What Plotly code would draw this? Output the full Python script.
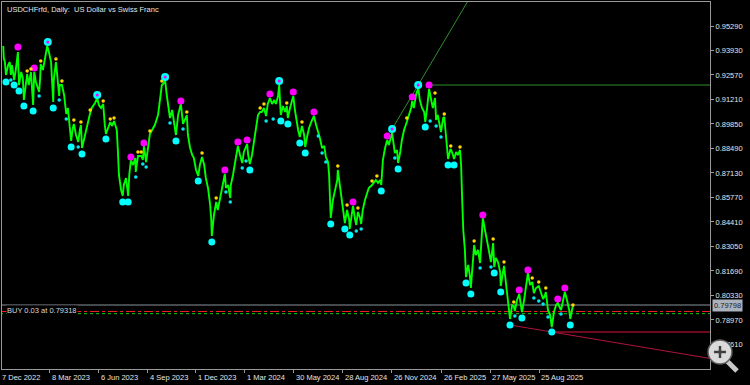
import pandas as pd
import plotly.graph_objects as go

# ---------------- data ----------------
base_date = pd.Timestamp("2022-12-06")   # day 0

bar_day = [6,7,9,11,15,18,20,22,26,29,33,35,39,42,44,48,50,53,57,61,
63,66,72,74,75,79,83,87,90,94,98,99,103,105,109,110,114,118,122,125,
129,131,134,136,140,144,147,149,151,155,158,162,166,169,175,179,182,186,190,193,
195,199,203,206,210,214,215,217,219,223,226,228,232,236,238,241,245,249,250,254,
260,263,265,269,273,276,280,285,291,295,298,302,304,307,311,313,317,320,324,328,
331,333,337,341,344,346,350,354,357,361,365,368,372,376,379,383,387,389,390,394,
398,401,405,409,412,414,416,420,424,425,429,433,436,438,442,446,449,455,457,460,
464,468,471,475,479,482,486,490,493,497,501,505,508,512,514,516,517,521,525,528,
530,534,538,540,543,547,549,552,556,560,562,565,569,573,576,578,582,586,589,593,
597,600,604,606,608,609,613,617,621,622,626,630,633,635,639,643,644,648,650,654,
656,659,663,665,668,672,676,679,685,689,692,696,700,702,705,709,713,716,718,722,
725,727,731,733,737,740,744,748,749,753,757,759,762,766,770,773,777,781,783,786,
790,794,797,801,803,806,810,812,816,818,821,825,829,830,834,836,840,843,847,849,
851,853,856,858,862,865,867,869,873,876,880,884,886,889,893,897,900,904,908,910,
913,917,921,922,926,928,932,935,939,943,946,948,952,956,959,961,965,969,972,976,
980,983,987,992,996,1000,1003,1005,1009,1013,1016,1020,1024,1027,1031,1033,1037,1040,1044,1048,
1050,1053,1055]

bar_price = [.94180,.93514,.93291,.92569,.93124,.93291,.92569,.93124,.92292,.92847,
.93847,.92014,.92736,.92403,.91182,.92292,.92625,.92014,.92736,.90904,
.92736,.92181,.91626,.92403,.93180,.92847,.93625,.94180,.93847,.93291,
.91071,.92292,.93291,.92569,.91404,.92014,.92014,.91459,.90404,.90738,
.89627,.88905,.89627,.89849,.89238,.88850,.89516,.89793,.88517,.89072,
.89516,.89960,.90459,.90738,.91015,.91293,.90904,.90738,.90960,.89793,
.89294,.89627,.89960,.89738,.90015,.89627,.89516,.88405,.87017,.86184,
.85851,.86462,.86851,.85851,.87017,.87850,.87572,.87961,.87184,.88072,
.88072,.87850,.88628,.87739,.88683,.89294,.89516,.89793,.90348,.91182,
.92014,.92125,.92292,.91459,.90626,.90182,.90626,.90071,.89238,.90348,
.90849,.90960,.89849,.90182,.90348,.89238,.88517,.88127,.87961,.87295,
.86962,.87572,.88016,.87572,.86851,.86296,.85351,.84519,.83630,.84796,
.85518,.85074,.85740,.86184,.86851,.87073,.86296,.86462,.85740,.86462,
.87017,.87850,.88405,.88628,.88127,.87683,.88294,.88739,.88127,.87628,
.88127,.88961,.89627,.90348,.90515,.90515,.90738,.90293,.90960,.91293,
.90960,.91182,.90960,.91404,.92014,.91182,.90348,.90849,.90515,.90849,
.90182,.90738,.91293,.91404,.90626,.89793,.89516,.89127,.89738,.89238,
.88572,.89072,.89627,.89960,.90182,.90293,.89793,.89405,.89072,.88517,
.88628,.88016,.87739,.87017,.85629,.84630,.85629,.86296,.86740,.87295,
.86462,.85629,.84963,.84352,.85074,.84519,.84019,.84796,.85296,.84519,
.84241,.84963,.84630,.84297,.85074,.85629,.86073,.86296,.86462,.86629,
.86740,.86573,.86740,.86462,.87850,.88517,.88961,.88683,.88961,.89349,
.88683,.88238,.88405,.87683,.88294,.88961,.89516,.89793,.89960,.90348,
.90738,.91126,.90738,.91459,.91848,.91182,.90738,.90515,.89960,.90626,
.91793,.91182,.90738,.91293,.90071,.90348,.89793,.89405,.90182,.90237,
.89238,.87906,.88405,.88461,.88127,.87906,.88294,.88127,.88405,.87572,
.85629,.83963,.82853,.81354,.82020,.81464,.80743,.81742,.83130,.82575,
.82853,.82131,.83130,.84630,.83963,.83408,.82853,.82187,.83241,.81909,
.82409,.82187,.81631,.80854,.81464,.81965,.80909,.80077,.79022,.79799,
.79743,.79466,.80077,.80410,.79799,.79410,.80077,.81076,.81575,.80909,
.81076,.80465,.80743,.80854,.80465,.80133,.80299,.80521,.79521,.79243,
.78577,.79410,.79799,.79910,.79632,.79521,.80077,.80521,.80077,.79521,
.79022,.79521,.79798]

low_big_day = [11,26,35,44,61,98,131,151,195,226,236,324,365,390,460,517,530,552,562,609,
               635,644,702,733,783,825,836,858,867,910,922,939,961,1016,1050]
low_big_price = [.92181,.92014,.91681,.90849,.90571,.90738,.88572,.88183,.89017,.85518,.85518,
                 .88905,.86684,.83297,.87295,.90015,.89849,.88794,.88238,.84297,.84019,.83686,
                 .86128,.87351,.89682,.87572,.87572,.81020,.80410,.81575,.80521,.78688,.79077,
                 .78300,.78688]

low_small_day = [20,72,109,122,144,250,263,269,313,337,416,424,446,453,490,503,586,593,600,
                 656,665,727,792,803,812,884,904,948,983,992,1000,1009,1033]
low_small_price = [.92292,.91404,.91182,.90127,.88572,.86907,.87628,.87462,.89904,.89572,.86073,
                   .85518,.87406,.87794,.90015,.90127,.89183,.88238,.87739,.83907,.84019,.87961,
                   .90015,.89738,.89128,.81853,.81909,.79188,.80188,.80021,.79854,.79132,.79299]

high_big_day = [33,63,241,265,333,414,438,455,497,540,578,650,713,759,790,889,956,972,1027,1040]
high_big_price = [.94124,.92958,.88016,.88794,.91126,.87295,.88850,.88961,.91515,.91626,.90515,
                  .85518,.89183,.91348,.92014,.84796,.80632,.81742,.80133,.80743]

both_day = [88,179,304,514,722,770]
both_price = [.94402,.91459,.92459,.92236,.89572,.92014]

high_small_day = [50,57,75,103,114,136,149,166,190,203,210,254,260,276,298,344,372,398,479,486,
                  528,556,622,639,659,685,694,749,801,818,830,847,873,908,928,946,980,992,1005,1055]
high_small_price = [.92792,.92903,.93347,.93458,.92236,.90071,.89960,.90626,.91126,.90127,.90182,
                    .88294,.88294,.89460,.92236,.90515,.88238,.85740,.90738,.90960,.91015,.89960,
                    .87517,.85351,.85185,.86684,.86962,.90182,.91570,.90404,.88628,.88572,.83352,
                    .83464,.82187,.79966,.81298,.81076,.80743,.79799]

ray_day = [722, 900]
ray_price = [0.89572, 0.98632]
res_day = [790, 1320]
res_price = [0.92014, 0.92014]
sup_day = [939, 1016, 1320]
sup_price = [0.78688, 0.78300, 0.76768]
sup_h_day = [1016, 1320]
sup_h_price = [0.78300, 0.78300]

bid_price = 0.79798
open_price = 0.79318
dashdot_price = 0.79438

y_ticks = [0.95290, 0.93930, 0.92570, 0.91210, 0.89850, 0.88490, 0.87130, 0.85770,
           0.84410, 0.83050, 0.81690, 0.80330, 0.78970, 0.77610]
x_tick_dates = ["2022-12-07", "2023-03-08", "2023-06-06", "2023-09-04", "2023-12-01",
                "2024-03-01", "2024-05-30", "2024-08-28", "2024-11-26", "2025-02-26",
                "2025-05-27", "2025-08-25"]
x_tick_labels = ["7 Dec 2022", "8 Mar 2023", "6 Jun 2023", "4 Sep 2023", "1 Dec 2023",
                 "1 Mar 2024", "30 May 2024", "28 Aug 2024", "26 Nov 2024", "26 Feb 2025",
                 "27 May 2025", "25 Aug 2025"]

title_text = "USDCHFrfd, Daily:\u00a0 US Dollar vs Swiss Franc"
position_text = "BUY 0.03 at 0.79318"

assert len(bar_day) == len(bar_price)

def to_dates(days):
    return [base_date + pd.Timedelta(days=d) for d in days]

FONT = "Liberation Sans, Arial, sans-serif"
TXT = "#e4e4e4"
FRAME = "#9a9a9a"

fig = go.Figure()

# horizontal chart-level lines (below price)
x_full = to_dates([0, 1320])
fig.add_trace(go.Scatter(x=x_full, y=[bid_price, bid_price], mode="lines",
                         line=dict(color="#8a929c", width=1), hoverinfo="skip"))
fig.add_trace(go.Scatter(x=x_full, y=[dashdot_price, dashdot_price], mode="lines",
                         line=dict(color="#e82020", width=1, dash="dashdot"), hoverinfo="skip"))
fig.add_trace(go.Scatter(x=x_full, y=[open_price, open_price], mode="lines",
                         line=dict(color="#10d010", width=1, dash="dot"), hoverinfo="skip"))

# trend lines
fig.add_trace(go.Scatter(x=to_dates(ray_day), y=ray_price, mode="lines",
                         line=dict(color="#2f8f2f", width=1), hoverinfo="skip"))
fig.add_trace(go.Scatter(x=to_dates(res_day), y=res_price, mode="lines",
                         line=dict(color="#2f8f2f", width=1), hoverinfo="skip"))
fig.add_trace(go.Scatter(x=to_dates(sup_day), y=sup_price, mode="lines",
                         line=dict(color="#b0143c", width=1), hoverinfo="skip"))
fig.add_trace(go.Scatter(x=to_dates(sup_h_day), y=sup_h_price, mode="lines",
                         line=dict(color="#dc143c", width=1), hoverinfo="skip"))

# price
fig.add_trace(go.Scatter(x=to_dates(bar_day), y=bar_price, mode="lines",
                         line=dict(color="#00ff00", width=1.9), hoverinfo="skip"))

# swing markers
fig.add_trace(go.Scatter(x=to_dates(low_big_day), y=low_big_price, mode="markers",
                         marker=dict(color="#00ffff", size=7, line=dict(width=0)), hoverinfo="skip"))
fig.add_trace(go.Scatter(x=to_dates(low_small_day), y=low_small_price, mode="markers",
                         marker=dict(color="#00e8f0", size=3.5, line=dict(width=0)), hoverinfo="skip"))
fig.add_trace(go.Scatter(x=to_dates(high_big_day), y=high_big_price, mode="markers",
                         marker=dict(color="#ff00ff", size=7, line=dict(width=0)), hoverinfo="skip"))
fig.add_trace(go.Scatter(x=to_dates(high_small_day), y=high_small_price, mode="markers",
                         marker=dict(color="#ffd700", size=3.5, line=dict(width=0)), hoverinfo="skip"))
fig.add_trace(go.Scatter(x=to_dates(both_day), y=both_price, mode="markers",
                         marker=dict(color="#00ffff", size=8, line=dict(width=0)), hoverinfo="skip"))
fig.add_trace(go.Scatter(x=to_dates(both_day), y=both_price, mode="markers",
                         marker=dict(color="#ff00ff", size=3, line=dict(width=0)), hoverinfo="skip"))

annotations = [
    dict(xref="paper", yref="paper", x=0, y=1, xanchor="left", yanchor="top",
         xshift=3, yshift=-1, text=title_text, showarrow=False,
         font=dict(family=FONT, size=7.5, color=TXT)),
    dict(xref="paper", yref="y", x=0, y=0.79521, xanchor="left", yanchor="middle",
         xshift=4, text=position_text, showarrow=False, bgcolor="#000000", borderpad=0,
         font=dict(family=FONT, size=7.5, color="#d8d8d8")),
    dict(xref="paper", yref="y", x=1, y=bid_price, xanchor="left", yanchor="middle",
         xshift=2, text="%.5f" % bid_price, showarrow=False, bgcolor="#aab2be",
         borderpad=1, font=dict(family=FONT, size=7.5, color="#1c2028")),
]
for i, (d, lab) in enumerate(zip(x_tick_dates, x_tick_labels)):
    if i == 0:
        annotations.append(dict(xref="paper", yref="paper", x=0, y=0, xanchor="left",
                                yanchor="top", xshift=-2, yshift=-2, text=lab, showarrow=False,
                                font=dict(family=FONT, size=7.5, color=TXT)))
    else:
        annotations.append(dict(xref="x", yref="paper", x=d, y=0, xanchor="left",
                                yanchor="top", xshift=0, yshift=-2, text=lab, showarrow=False,
                                font=dict(family=FONT, size=7.5, color=TXT)))

# magnifier overlay icon (bottom right)
shapes = [
    dict(type="line", xref="paper", yref="paper", xsizemode="pixel", ysizemode="pixel",
         xanchor=1, yanchor=0, x0=17, y0=8, x1=27, y1=-2,
         line=dict(color="#c8c8c8", width=5)),
    dict(type="circle", xref="paper", yref="paper", xsizemode="pixel", ysizemode="pixel",
         xanchor=1, yanchor=0, x0=-2, y0=5, x1=22, y1=29,
         fillcolor="#dadada", line=dict(color="#5a5a5a", width=1.5)),
    dict(type="line", xref="paper", yref="paper", xsizemode="pixel", ysizemode="pixel",
         xanchor=1, yanchor=0, x0=4, y0=17, x1=16, y1=17,
         line=dict(color="#404040", width=2.5)),
    dict(type="line", xref="paper", yref="paper", xsizemode="pixel", ysizemode="pixel",
         xanchor=1, yanchor=0, x0=10, y0=11, x1=10, y1=23,
         line=dict(color="#404040", width=2.5)),
]

fig.update_layout(
    width=750, height=385,
    margin=dict(l=2, r=40, t=2, b=16),
    paper_bgcolor="#000000", plot_bgcolor="#000000",
    showlegend=False,
    annotations=annotations,
    shapes=shapes,
    xaxis=dict(type="date",
               range=[base_date + pd.Timedelta(days=3.68), base_date + pd.Timedelta(days=1307.3)],
               showgrid=False, zeroline=False, showline=True, linecolor=FRAME, linewidth=1,
               mirror=True, ticks="outside", ticklen=3, tickcolor=FRAME,
               tickvals=x_tick_dates[1:], showticklabels=False, fixedrange=True),
    yaxis=dict(side="right", range=[0.76245, 0.96623],
               showgrid=False, zeroline=False, showline=True, linecolor=FRAME, linewidth=1,
               mirror=True, ticks="outside", ticklen=3, tickcolor=FRAME,
               tickvals=y_ticks, ticktext=["%.5f" % v for v in y_ticks],
               tickfont=dict(family=FONT, size=7.5, color=TXT), fixedrange=True),
)

fig.write_html("out.html", config={"displayModeBar": False})
